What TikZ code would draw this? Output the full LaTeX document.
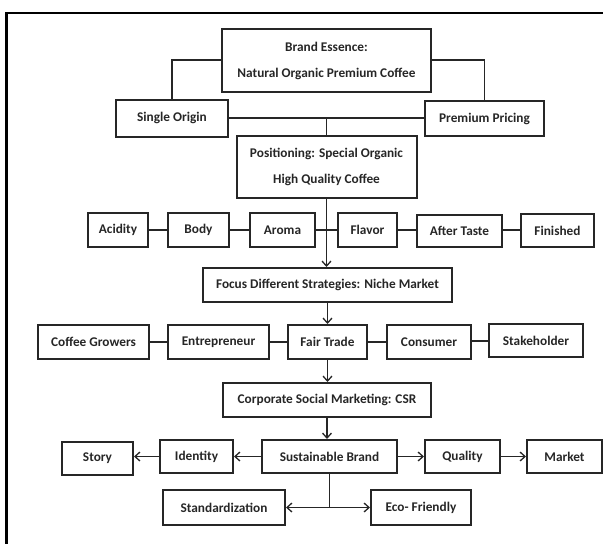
\documentclass[tikz,border=0pt]{standalone}
\usepackage{fontspec}
\setmainfont{Carlito}
\usetikzlibrary{arrows.meta}
\definecolor{ink}{HTML}{262626}
\tikzset{
  bx/.style={draw=ink, line width=2pt, inner sep=0pt, align=center,
    font=\fontsize{13.3}{26}\selectfont\bfseries, text=ink},
  ln/.style={draw=ink, line width=1.5pt},
  ar/.style={ln, -{Straight Barb[length=5pt,width=9pt,line width=1.3pt]}},
}
\newcommand{\bxat}[6]{% name, cx, cy, w, h, text
  \node[bx, minimum width=#4pt, minimum height=#5pt] (#1) at (#2,#3) {#6};}
\begin{document}
\begin{tikzpicture}[x=1pt,y=-1pt]
\useasboundingbox (0,0) rectangle (603,544);
\draw[line width=2.5pt, black] (6.5,544) -- (6.5,13) -- (603,13);
% top
\bxat{be}{326.5}{60.5}{209}{63}{Brand Essence:\\Natural Organic Premium Coffee}
\bxat{so}{172}{118}{112}{37}{Single Origin}
\bxat{pp}{484.5}{118.5}{119}{35}{Premium Pricing}
\bxat{pos}{326.5}{167}{180}{62}{Positioning: Special Organic\\High Quality Coffee}
% row 2
\bxat{acid}{118}{230}{60}{34}{Acidity}
\bxat{body}{198.5}{230}{61}{34}{Body}
\bxat{aroma}{282.5}{230}{65}{34}{Aroma}
\bxat{flavor}{367.5}{230}{59}{34}{Flavor}
\bxat{after}{459.5}{231}{85}{32}{After Taste}
\bxat{fin}{557.5}{230.5}{73}{33}{Finished}
\bxat{focus}{327.5}{285}{249}{34}{Focus Different Strategies: Niche Market}
% row 3
\bxat{cg}{93.5}{342}{111}{34}{Coffee Growers}
\bxat{ent}{218.5}{342}{101}{34}{Entrepreneur}
\bxat{ft}{327.5}{342}{79}{34}{Fair Trade}
\bxat{cons}{429}{342}{84}{34}{Consumer}
\bxat{stake}{536}{340.5}{94}{33}{Stakeholder}
\bxat{csr}{327}{400}{208}{34}{Corporate Social Marketing: CSR}
% row 4
\bxat{story}{97.5}{458.5}{71}{33}{Story}
\bxat{ident}{196.5}{456.5}{73}{33}{Identity}
\bxat{sb}{329.5}{456.5}{135}{33}{Sustainable Brand}
\bxat{qual}{462.5}{456.5}{75}{33}{Quality}
\bxat{market}{564.5}{456.5}{75}{33}{Market}
% row 5
\bxat{std}{224}{507.5}{122}{35}{Standardization}
\bxat{eco}{421}{507.5}{100}{35}{Eco- Friendly}
% connectors top
\draw[ln] (be.west |- 0,60) -| (so.north);
\draw[ln] (be.east |- 0,60) -| (pp.north);
\coordinate (mid) at (pos.north |- so.east);
\draw[ln] (so.east) -- (so.east -| pp.west);
\draw[ln] (mid) -- (pos.north);
% row 2 lines
\draw[ln] (acid) -- (body);
\draw[ln] (body) -- (aroma);
\draw[ln] (aroma.east |- 0,230) -- (flavor.west |- 0,230);
\draw[ln] (flavor.east |- 0,230) -- (after.west |- 0,230);
\draw[ln] (after.east |- 0,230) -- (fin.west |- 0,230);
\draw[ar] (pos.south) -- (pos.south |- focus.north);
\draw[ar] (focus.south -| ft.north) -- (ft.north);
% row 3 lines
\draw[ln] (cg) -- (ent);
\draw[ln] (ent) -- (ft);
\draw[ln] (ft) -- (cons);
\draw[ln] (cons.east |- 0,341) -- (stake.west |- 0,341);
\draw[ar] (ft.south) -- (ft.south |- csr.north);
\draw[ar] (csr.south) -- (csr.south |- sb.north);
% row 4 arrows
\draw[ar] (sb.west) -- (ident.east);
\draw[ar] (ident.west) -- (ident.west -| story.east);
\draw[ar] (sb.east) -- (qual.west);
\draw[ar] (qual.east) -- (market.west);
\coordinate (split) at (sb.south |- std.east);
\draw[ln] (sb.south) -- (split);
\draw[ar] (split) -- (std.east);
\draw[ar] (split) -- (eco.west);
\end{tikzpicture}
\end{document}
